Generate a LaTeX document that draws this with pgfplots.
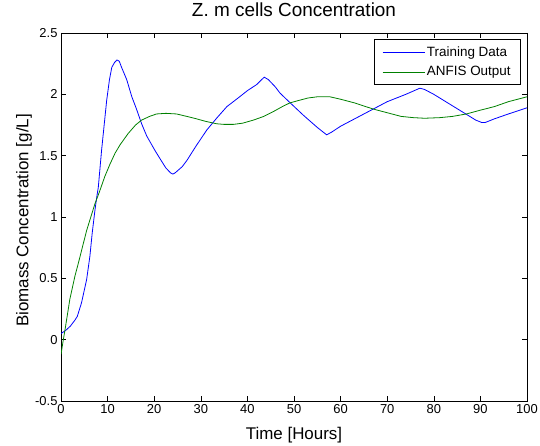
\documentclass[border=0pt]{standalone}
\usepackage{fontspec}
\setmainfont{Liberation Sans}
\usepackage{pgfplots}
\pgfplotsset{compat=1.18}
\definecolor{mblue}{RGB}{0,0,255}
\definecolor{mgreen}{RGB}{0,128,0}
\begin{document}
\begin{tikzpicture}
\begin{axis}[
  name=main,
  scale only axis,
  width=466bp, height=368bp,
  xmin=0, xmax=100, ymin=-0.5, ymax=2.5,
  xtick={0,10,...,100},
  ytick={-0.5,0,0.5,1,1.5,2,2.5},
  yticklabels={-0.5,0,0.5,1,1.5,2,2.5},
  /pgf/number format/assume math mode=true,
  tick align=inside,
  xtick pos=both, ytick pos=both,
  major tick length=5bp,
  tick style={black, line width=0.5pt},
  axis line style={black, line width=0.6pt},
  ticklabel style={font=\fontsize{13}{15}\selectfont},
  title={Z. m cells Concentration},
  title style={at={(axis description cs:0.5,1.0285)}, anchor=base, font=\fontsize{19}{22}\selectfont},
  xlabel={Time [Hours]},
  xlabel style={at={(axis description cs:0.5,-0.1033)}, anchor=base, font=\fontsize{17}{20}\selectfont},
  ylabel={Biomass Concentration [g/L]},
  ylabel style={at={(axis description cs:-0.0702,0.4905)}, anchor=base, rotate=0, font=\fontsize{17}{20}\selectfont},
  legend style={at={(axis description cs:0.987,0.9837)}, anchor=north east, draw=black, line width=0.6pt, fill=white,
    font=\fontsize{13.5}{16}\selectfont, inner xsep=8bp, inner ysep=5bp, row sep=5bp, cells={anchor=west}},
  legend image code/.code={\draw[#1] (0bp,0bp) -- (42bp,0bp);},
]
\addlegendimage{draw=mblue, color=mblue, line width=0.8pt}
\addlegendentry{Training Data}
\addlegendimage{draw=mgreen, color=mgreen, line width=0.8pt}
\addlegendentry{ANFIS Output}
\addplot[mblue, line width=0.8pt, forget plot] coordinates {
(0,0.05) (1,0.075) (2,0.11) (3,0.16) (3.5,0.19) (4.4,0.30) (5.5,0.49) (6.2,0.68) (6.7,0.87) (7.3,1.06) (7.7,1.17) (8.0,1.24) (8.7,1.54) (9.8,1.95) (10.4,2.12) (10.9,2.22) (11.5,2.26) (12.0,2.28) (12.5,2.27) (13.0,2.22) (14.1,2.12) (15.2,1.98) (16.2,1.88) (17.3,1.76) (18.4,1.66) (19.3,1.60) (20.2,1.54) (21.5,1.46) (22.5,1.40) (23.5,1.36) (24.0,1.35) (24.5,1.36) (26,1.41) (27,1.46) (29,1.58) (31.3,1.71) (33.5,1.81) (35.6,1.90) (38,1.97) (40,2.03) (42,2.08) (43.6,2.14) (44.5,2.12) (46,2.06) (47,2.01) (49.2,1.93) (52,1.83) (55,1.73) (57,1.67) (58,1.69) (60,1.74) (63,1.80) (67,1.88) (70,1.94) (74,2.00) (77,2.05) (78,2.04) (80,2.00) (83,1.93) (86,1.86) (89,1.79) (90.3,1.77) (91,1.77) (93,1.80) (96,1.84) (100,1.89)
};
\addplot[mgreen, line width=0.8pt, forget plot] coordinates {
(0,-0.12) (0.5,0.0) (0.86,0.08) (1.9,0.33) (3,0.52) (3.7,0.62) (4.5,0.74) (5.5,0.89) (6.4,1.00) (7.3,1.11) (8.2,1.20) (9.4,1.33) (10.5,1.43) (11.6,1.52) (12.7,1.59) (14.4,1.68) (16,1.75) (17.3,1.79) (19,1.82) (20.5,1.84) (22.5,1.845) (24.8,1.84) (27,1.82) (29.1,1.80) (31,1.78) (33.4,1.76) (35,1.755) (37,1.755) (39,1.765) (41.3,1.79) (43.5,1.82) (45.6,1.86) (47.5,1.90) (49.1,1.93) (51,1.95) (53,1.97) (55,1.98) (57.7,1.98) (60,1.96) (63,1.93) (67,1.88) (70,1.85) (73,1.82) (75.6,1.81) (78,1.805) (81.3,1.81) (84,1.82) (87,1.84) (89.9,1.87) (93,1.90) (96,1.94) (100,1.98)
};
\end{axis}
\pgfresetboundingbox
\useasboundingbox ([xshift=-61bp,yshift=-45bp]main.south west) rectangle ([xshift=13bp,yshift=33bp]main.north east);
\end{tikzpicture}
\end{document}
